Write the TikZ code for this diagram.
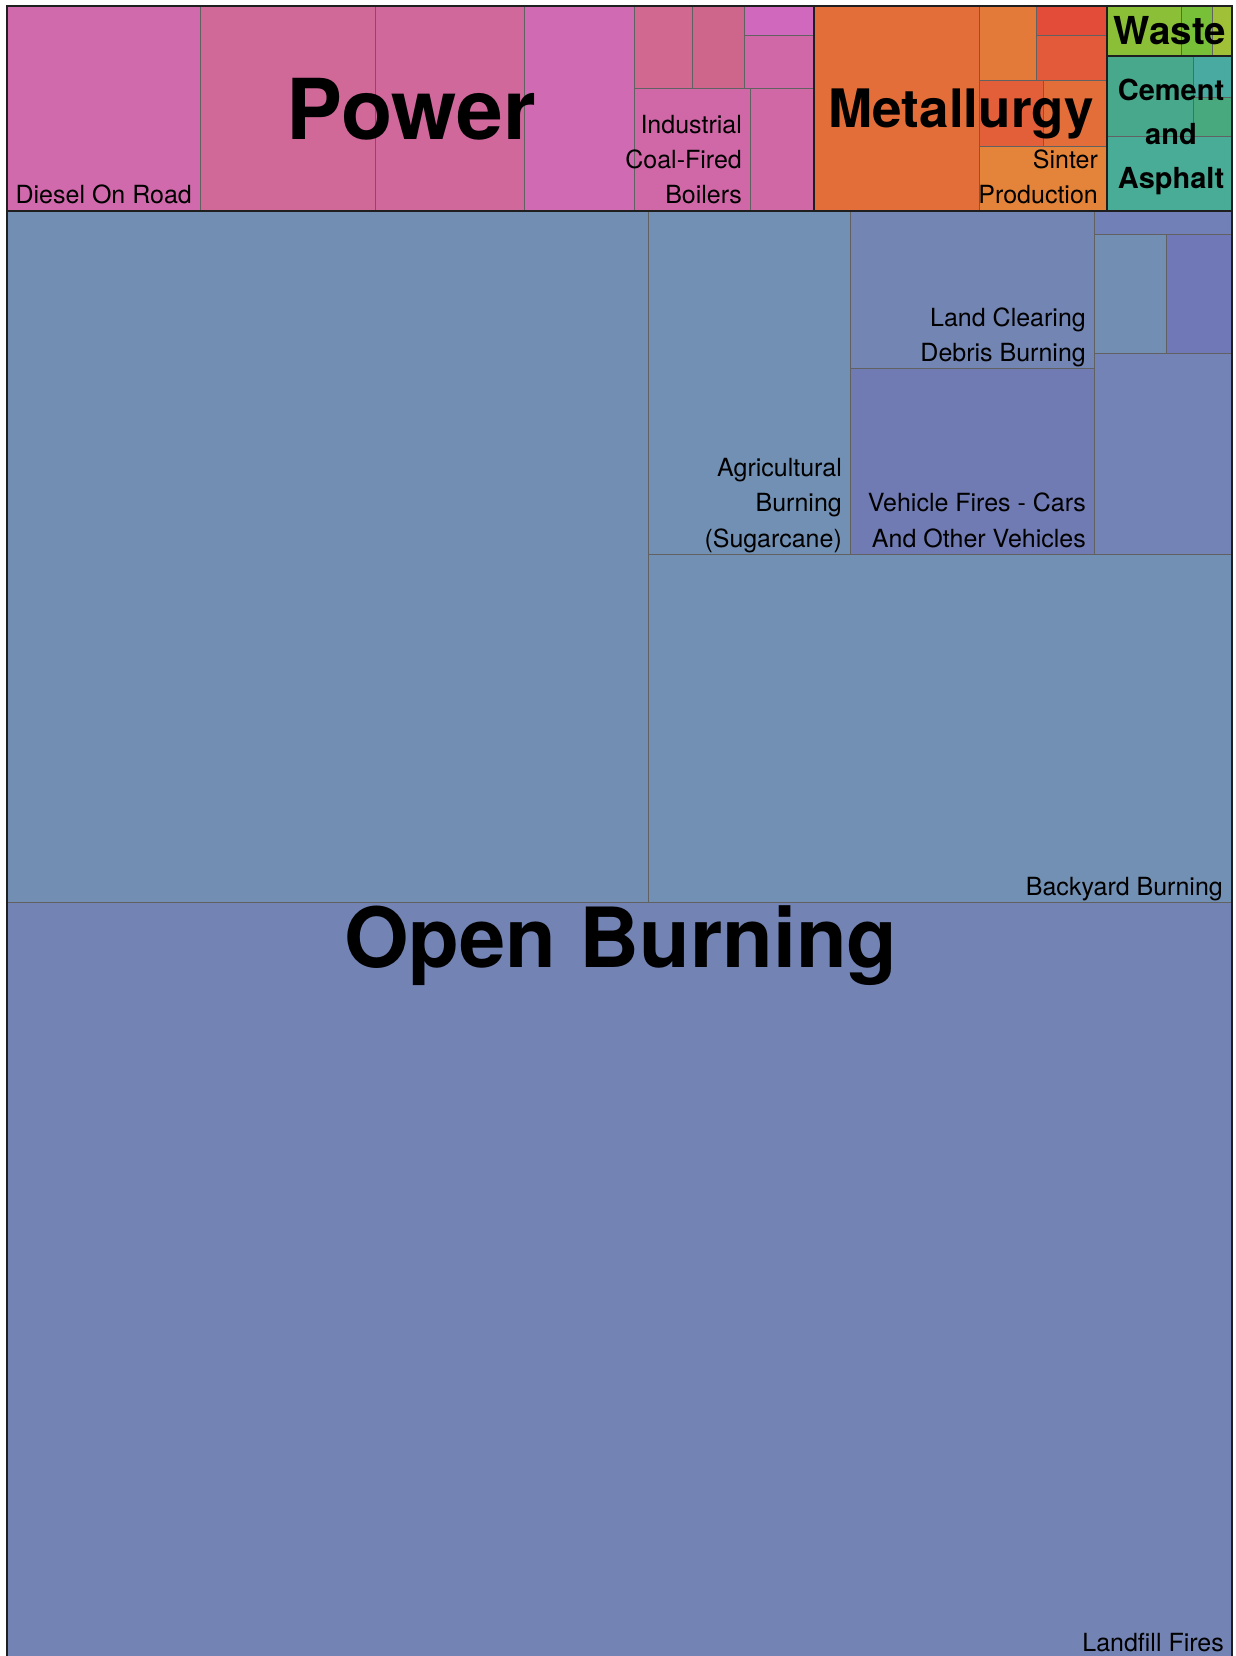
\documentclass[tikz,border=0pt]{standalone}
\usepackage{fontspec}
\setmainfont{TeX Gyre Heros}
\definecolor{p1}{RGB}{208,106,172}
\definecolor{p2}{RGB}{208,104,152}
\definecolor{p3}{RGB}{208,104,156}
\definecolor{p4}{RGB}{208,106,178}
\definecolor{p5}{RGB}{208,104,143}
\definecolor{p6}{RGB}{206,102,140}
\definecolor{p7}{RGB}{208,104,190}
\definecolor{p8}{RGB}{208,104,168}
\definecolor{p9}{RGB}{208,104,168}
\definecolor{p10}{RGB}{208,104,165}
\definecolor{m1}{RGB}{227,110,58}
\definecolor{m2}{RGB}{227,122,58}
\definecolor{m3}{RGB}{227,76,56}
\definecolor{m4}{RGB}{227,90,58}
\definecolor{m5}{RGB}{227,95,58}
\definecolor{m6}{RGB}{227,110,58}
\definecolor{m7}{RGB}{227,132,58}
\definecolor{w1}{RGB}{140,191,56}
\definecolor{w2}{RGB}{120,192,56}
\definecolor{w3}{RGB}{160,192,56}
\definecolor{c1}{RGB}{72,168,140}
\definecolor{c2}{RGB}{72,170,160}
\definecolor{c3}{RGB}{72,168,126}
\definecolor{c4}{RGB}{72,172,150}
\definecolor{o1}{RGB}{115,142,179}
\definecolor{o2}{RGB}{114,144,179}
\definecolor{o3}{RGB}{115,133,179}
\definecolor{o4}{RGB}{112,122,179}
\definecolor{o5}{RGB}{114,128,184}
\definecolor{o6}{RGB}{114,142,179}
\definecolor{o7}{RGB}{112,120,184}
\definecolor{o8}{RGB}{115,131,181}
\definecolor{o9}{RGB}{114,144,179}
\definecolor{o10}{RGB}{115,131,179}
\tikzset{
  cell/.style={draw=black!62, line width=0.8pt},
  grp/.style={draw=black!88, line width=2.2pt},
  lab/.style={font=\fontsize{25}{25}\selectfont, anchor=base east, inner sep=0pt, text=black},
  biglab/.style={anchor=base, inner sep=0pt, text=black},
}
\begin{document}
\begin{tikzpicture}[x=1pt,y=-1pt]
\useasboundingbox (0,0) rectangle (1235,1656);
\clip (0,0) rectangle (1235,1656);
\fill[white] (0,0) rectangle (1235,1656);
% Power
\path[cell,fill=p1] (7,6) rectangle (200,211);
\path[cell,fill=p2] (200,6) rectangle (375,211);
\path[cell,fill=p3] (375,6) rectangle (524,211);
\path[cell,fill=p4] (524,6) rectangle (634,211);
\path[cell,fill=p5] (634,6) rectangle (692,88);
\path[cell,fill=p6] (692,6) rectangle (744,88);
\path[cell,fill=p7] (744,6) rectangle (814,35);
\path[cell,fill=p8] (744,35) rectangle (814,88);
\path[cell,fill=p9] (634,88) rectangle (750,211);
\path[cell,fill=p10] (750,88) rectangle (814,211);
% Metallurgy
\path[cell,fill=m1] (814,6) rectangle (979,211);
\path[cell,fill=m2] (979,6) rectangle (1036,80);
\path[cell,fill=m3] (1036,6) rectangle (1107,35);
\path[cell,fill=m4] (1036,35) rectangle (1107,80);
\path[cell,fill=m5] (979,80) rectangle (1043,146);
\path[cell,fill=m6] (1043,80) rectangle (1107,146);
\path[cell,fill=m7] (979,146) rectangle (1107,211);
% Waste
\path[cell,fill=w1] (1107,6) rectangle (1181,56);
\path[cell,fill=w2] (1181,6) rectangle (1212,56);
\path[cell,fill=w3] (1212,6) rectangle (1232,56);
% Cement
\path[cell,fill=c1] (1107,56) rectangle (1193,136);
\path[cell,fill=c2] (1193,56) rectangle (1232,97);
\path[cell,fill=c3] (1193,97) rectangle (1232,136);
\path[cell,fill=c4] (1107,136) rectangle (1232,211);
% Open burning
\path[cell,fill=o1] (7,211) rectangle (648,902);
\path[cell,fill=o2] (648,211) rectangle (850,554);
\path[cell,fill=o3] (850,211) rectangle (1094,368);
\path[cell,fill=o4] (850,368) rectangle (1094,554);
\path[cell,fill=o5] (1094,211) rectangle (1232,234);
\path[cell,fill=o6] (1094,234) rectangle (1166,353);
\path[cell,fill=o7] (1166,234) rectangle (1232,353);
\path[cell,fill=o8] (1094,353) rectangle (1232,554);
\path[cell,fill=o9] (648,554) rectangle (1232,902);
\path[cell,fill=o10] (7,902) rectangle (1232,1670);
% group borders
\draw[grp] (7,6) rectangle (814,211);
\draw[grp] (814,6) rectangle (1107,211);
\draw[grp] (1107,6) rectangle (1232,56);
\draw[grp] (1107,56) rectangle (1232,211);
\draw[grp] (7,211) rectangle (1232,1670);
% small labels
\node[lab] (diesel) at (192,204) {Diesel On Road};
\node[lab] (ind1) at (742,133.3) {Industrial};
\node[lab] (ind2) at (742,168.6) {Coal-Fired};
\node[lab] (ind3) at (742,204) {Boilers};
\node[lab] (sin1) at (1098,168.4) {Sinter};
\node[lab] (sin2) at (1098,204) {Production};
\node[lab] (land1) at (1086,326) {Land Clearing};
\node[lab] (land2) at (1086,361.5) {Debris Burning};
\node[lab] (agr1) at (842,476) {Agricultural};
\node[lab] (agr2) at (842,511.5) {Burning};
\node[lab] (agr3) at (842,547) {(Sugarcane)};
\node[lab] (veh1) at (1086,511.5) {Vehicle Fires - Cars};
\node[lab] (veh2) at (1086,547) {And Other Vehicles};
\node[lab] (back) at (1223,895) {Backyard Burning};
\node[lab] (landf) at (1224,1651) {Landfill Fires};
% group labels
\node[biglab,font=\fontsize{84}{84}\selectfont\bfseries] (power) at (411,140) {Power};
\node[biglab,font=\fontsize{53}{53}\selectfont\bfseries] (metal) at (961,128) {Metallurgy};
\node[biglab,font=\fontsize{38.5}{38.5}\selectfont\bfseries] (waste) at (1170,45) {Waste};
\node[biglab,font=\fontsize{29}{29}\selectfont\bfseries] (cem1) at (1171,100.5) {Cement};
\node[biglab,font=\fontsize{29}{29}\selectfont\bfseries] (cem2) at (1171,145) {and};
\node[biglab,font=\fontsize{29}{29}\selectfont\bfseries] (cem3) at (1171,188.5) {Asphalt};
\node[biglab,font=\fontsize{83}{83}\selectfont\bfseries] (open) at (621,967) {Open Burning};
\end{tikzpicture}
\end{document}
